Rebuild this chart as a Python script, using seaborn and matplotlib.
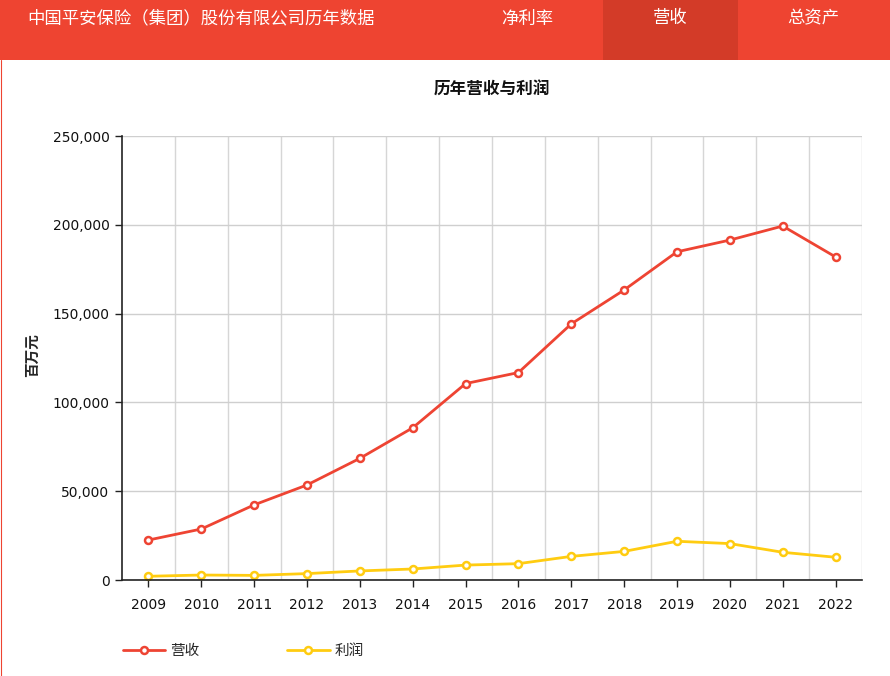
import matplotlib
matplotlib.use("Agg")
import matplotlib.pyplot as plt
import seaborn as sns
import pandas as pd
import numpy as np
from matplotlib.patches import Rectangle
from matplotlib.lines import Line2D
from matplotlib.ticker import FuncFormatter, FixedLocator

years = ["2009", "2010", "2011", "2012", "2013", "2014", "2015",
         "2016", "2017", "2018", "2019", "2020", "2021", "2022"]
revenue = [22500, 28700, 42300, 53500, 68500, 85700, 110600,
           116800, 144200, 163300, 184800, 191400, 199300, 181900]
profit = [2100, 2800, 2600, 3600, 5100, 6200, 8400,
          9200, 13300, 16100, 21800, 20500, 15600, 12800]
series_names = ["营收", "利润"]
colors = ["#EE4433", "#FFCC11"]
yticks = [0, 50000, 100000, 150000, 200000, 250000]

sns.set_theme(style="white")
plt.rcParams["font.family"] = ["DejaVu Sans", "Noto Sans CJK SC"]
cjk = ["Noto Sans CJK SC", "DejaVu Sans"]

df = pd.DataFrame({
    "year": years * 2,
    "value": revenue + profit,
    "series": [series_names[0]] * len(years) + [series_names[1]] * len(years),
})

W, H = 890, 676
fig = plt.figure(figsize=(W / 100, H / 100), dpi=100)
fig.patch.set_facecolor("white")

# header bar
fig.patches.append(Rectangle((0, 1 - 60 / H), 1, 60 / H, transform=fig.transFigure,
                             facecolor="#EE4431", edgecolor="none", zorder=0))
fig.patches.append(Rectangle((603 / W, 1 - 60 / H), 135 / W, 60 / H, transform=fig.transFigure,
                             facecolor="#D33B28", edgecolor="none", zorder=1))
fig.lines.append(Line2D([0.5 / W, 0.5 / W], [0, 1 - 60 / H], transform=fig.transFigure,
                        color="#EE4431", lw=0.8))
fig.text(27 / W, 1 - 18.5 / H, "中国平安保险（集团）股份有限公司历年数据", color="white",
         fontsize=12.5, family=cjk, va="center", ha="left")
for label, cx in [("净利率", 527), ("营收", 670), ("总资产", 813)]:
    fig.text(cx / W, 1 - 18.5 / H, label, color="white", fontsize=12.5, family=cjk,
             va="center", ha="center")

fig.text(492 / W, 1 - 90 / H, "历年营收与利润", fontsize=12, fontweight="bold",
         family=cjk, ha="center", va="center", color="#111111")

ax = fig.add_axes([122 / W, 1 - 580 / H, 740 / W, 444 / H])
sns.lineplot(data=df, x="year", y="value", hue="series", palette=colors,
             marker="o", markersize=5, markerfacecolor="white", markeredgewidth=1.8,
             linewidth=2, ax=ax, legend=False, sort=False)
for line, c in zip(ax.lines, colors):
    line.set_markeredgecolor(c)

ax.set_xlim(-0.5, len(years) - 0.5)
ax.set_ylim(0, 250000)
ax.set_yticks(yticks)
ax.yaxis.set_major_formatter(FuncFormatter(lambda v, p: f"{int(v):,}"))
ax.set_xticks(range(len(years)))
ax.set_xticklabels(years)
ax.xaxis.set_minor_locator(FixedLocator(np.arange(0.5, len(years) - 0.5 + 0.01, 1)))
ax.grid(True, axis="y", which="major", color="#cfcfcf", lw=1)
ax.grid(True, axis="x", which="minor", color="#d6d6d6", lw=1)
ax.grid(False, axis="x", which="major")
ax.tick_params(axis="both", which="major", direction="out", length=5, width=1,
               color="#222222", labelsize=10, labelcolor="#111111", bottom=True, left=True)
ax.tick_params(axis="x", which="minor", length=0)
ax.tick_params(axis="x", pad=8)
ax.tick_params(axis="y", pad=4)
for s in ["top", "right"]:
    ax.spines[s].set_visible(False)
for s in ["left", "bottom"]:
    ax.spines[s].set_color("#222222")
    ax.spines[s].set_linewidth(1.2)
ax.set_xlabel("")
ax.set_ylabel("百万元", fontsize=10.5, fontweight="bold", family=cjk)
ax.yaxis.set_label_coords(-82 / 740, (580 - 355) / 444)

handles = [Line2D([], [], color=c, lw=2, marker="o", markersize=5,
                  markerfacecolor="white", markeredgewidth=1.8, markeredgecolor=c)
           for c in colors]
leg = fig.legend(handles, series_names, loc="center left",
                 bbox_to_anchor=(110 / W, 1 - 651 / H), ncol=2, frameon=False,
                 handlelength=2.9, handletextpad=0.35, columnspacing=6.0,
                 prop={"family": cjk, "size": 10.5})

fig.savefig("out.png", dpi=100)
